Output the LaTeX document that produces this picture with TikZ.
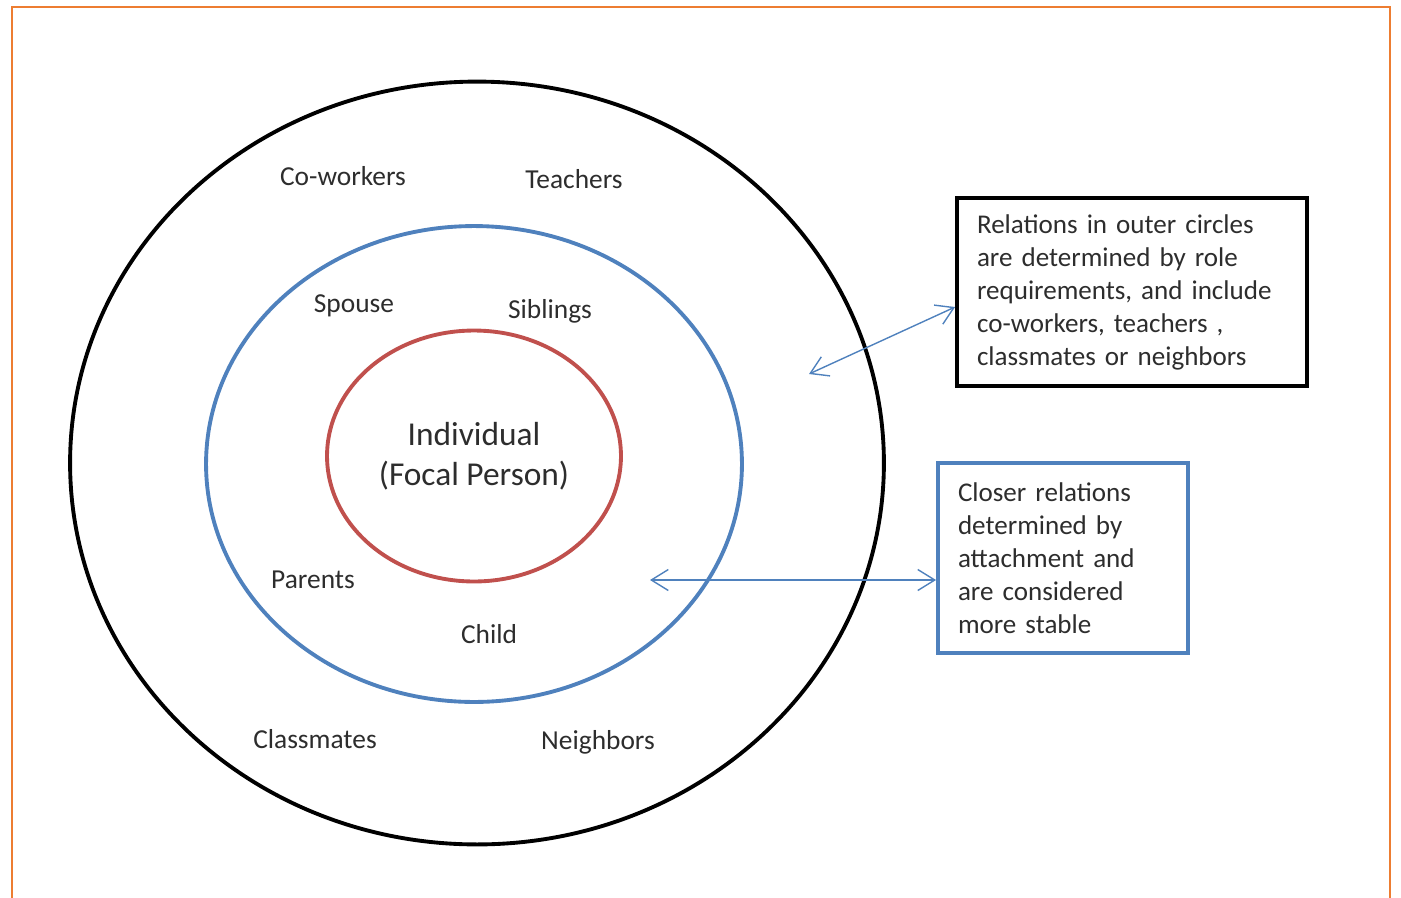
\documentclass[tikz,border=0pt]{standalone}
\usepackage{fontspec}
\setmainfont{Carlito}
\usepackage{xcolor}
\usetikzlibrary{arrows.meta,positioning,shapes.geometric,calc}

\definecolor{frameorange}{RGB}{237,125,49}
\definecolor{ringblue}{RGB}{79,129,189}
\definecolor{ringred}{RGB}{192,80,77}
\definecolor{inkgray}{RGB}{45,45,45}

\begin{document}
\begin{tikzpicture}[x=0.02cm, y=-0.02cm,
		ring/.style={draw, ellipse, line width=2.2pt, inner sep=0pt},
		member/.style={font=\fontsize{15.6}{18}\selectfont, text=inkgray},
		note/.style={draw, line width=2.2pt, align=left, inner xsep=0.4cm,
				font=\fontsize{15.4}{18.8}\selectfont, text=inkgray},
		link/.style={{Straight Barb[length=3.4mm,width=4.2mm]}-{Straight Barb[length=3.4mm,width=4.2mm]},
				ringblue, line width=0.8pt}]

	\useasboundingbox (0,0) rectangle (1401,897);

	% ── page frame (open at the bottom) ──
	\draw[frameorange, line width=1.6pt] (12,910) -- (12,7) -- (1390,7) -- (1390,910);

	% ── the three circles ──
	\node[ring, minimum width=16.28cm, minimum height=15.26cm] (outer) at (477,463) {};
	\node[ring, draw=ringblue, minimum width=10.72cm, minimum height=9.52cm] (middle) at (474,464) {};
	\node[ring, draw=ringred, minimum width=5.88cm, minimum height=5.02cm, align=center,
		font=\fontsize{19}{22.7}\selectfont, text=inkgray] (focal) at (474,456)
		{Individual\\(Focal Person)};

	% ── people in each ring ──
	\node[member] (coworkers) at (343,176) {Co-workers};
	\node[member] (teachers) at (574,179) {Teachers};
	\node[member] (spouse) at (354,306) {Spouse};
	\node[member] (siblings) at (550,311) {Siblings};
	\node[member] (parents) at (313,580) {Parents};
	\node[member] (child) at (489,634) {Child};
	\node[member] (classmates) at (315,739) {Classmates};
	\node[member] (neighbors) at (598,742) {Neighbors};

	% ── explanation boxes ──
	\node[note, text width=6.2cm, minimum height=3.76cm] (rolebox) at (1132,292)
		{Relations in outer circles\\are determined by role\\requirements, and include\\co-workers, teachers ,\\classmates or neighbors};
	\node[note, draw=ringblue, text width=4.2cm, minimum height=3.8cm] (closebox) at (1063,558)
		{Closer relations\\determined by\\attachment and\\are considered\\more stable};

	% ── pointers into the rings ──
	\coordinate (outerspot) at (809,374);
	\coordinate (innerspot) at (650,580);
	\draw[link] (outerspot) -- ($(rolebox.west)+(0,15)$);
	\draw[link] (innerspot) -- ($(closebox.west)+(0,22)$);

\end{tikzpicture}
\end{document}
